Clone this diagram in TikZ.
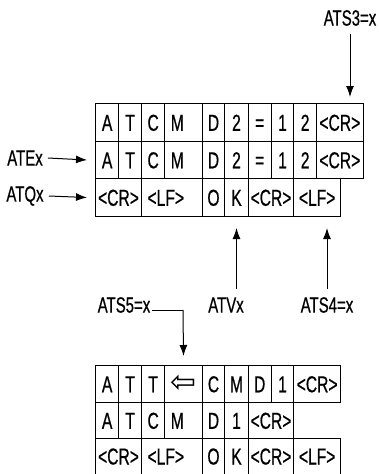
\documentclass[tikz,border=0pt]{standalone}
\usepackage{fontspec}
\setmainfont[FakeStretch=0.68,FakeBold=0.6]{Liberation Sans}
\newfontfamily\arrowfont{DejaVu Sans}
\usetikzlibrary{arrows.meta}

\tikzset{
  cell/.style={draw, line width=1pt, anchor=north west, inner ysep=0pt, inner xsep=2pt,
    text height=16.5pt, text depth=0pt, font={\fontsize{23}{23}\selectfont}},
  lbl/.style={inner sep=0pt, font={\fontsize{22}{22}\selectfont}},
  arr/.style={line width=1pt, -{Latex[length=11pt,width=8pt]}},
  wire/.style={line width=1pt},
}

\begin{document}
\begin{tikzpicture}[x=1pt,y=-1pt]
\useasboundingbox (0,0) rectangle (378,474);

% upper block: command, echo, response
\foreach \l/\r/\t/\a [count=\i] in {95/118.3/A/center, 118.3/141/T/center, 141/164.3/C/center,
  164.3/201.7/{\hspace*{4pt}M}/left, 201.7/224.3/D/center, 224.3/247.7/2/center, 247.7/270.7/=/center,
  270.7/293.3/1/center, 293.3/316/2/center, 316/362.7/<CR>/center}
{
  \pgfmathsetmacro\w{\r-\l}
  \pgfmathsetmacro\tw{\r-\l-4}
  \node [cell, minimum width=\w pt, minimum height=38pt, text width=\tw pt, align=\a] (cmd-\i) at (\l,103) {\t};
  \node [cell, minimum width=\w pt, minimum height=37pt, text width=\tw pt, align=\a] (echo-\i) at (\l,141) {\t};
}
\foreach \l/\r/\t/\a [count=\i] in {95/141/<CR>/center, 141/201.7/{\hspace*{4pt}<LF>}/left, 201.7/224.3/O/center,
  224.3/247.7/K/center, 247.7/293.3/<CR>/center, 293.3/340/<LF>/center}
{
  \pgfmathsetmacro\w{\r-\l}
  \pgfmathsetmacro\tw{\r-\l-4}
  \node [cell, minimum width=\w pt, minimum height=38pt, text width=\tw pt, align=\a] (resp-\i) at (\l,178) {\t};
}

% lower block
\foreach \l/\r/\t/\a [count=\i] in {95/118.3/A/center, 118.3/141/T/center, 141/164.3/T/center,
  164.3/201.7/{\arrowfont\fontsize{31}{31}\selectfont ⇦}/center, 201.7/224.3/C/center, 224.3/247.7/M/center,
  247.7/270.7/D/center, 270.7/293.3/1/center, 293.3/340/<CR>/center}
{
  \pgfmathsetmacro\w{\r-\l}
  \pgfmathsetmacro\tw{\r-\l-4}
  \node [cell, minimum width=\w pt, minimum height=37pt, text width=\tw pt, align=\a] (bcmd-\i) at (\l,365) {\t};
}
\foreach \l/\r/\t/\a [count=\i] in {95/118.3/A/center, 118.3/141/T/center, 141/164.3/C/center,
  164.3/201.7/{\hspace*{4pt}M}/left, 201.7/224.3/D/center, 224.3/247.7/1/center, 247.7/293.3/<CR>/center}
{
  \pgfmathsetmacro\w{\r-\l}
  \pgfmathsetmacro\tw{\r-\l-4}
  \node [cell, minimum width=\w pt, minimum height=36pt, text width=\tw pt, align=\a] (becho-\i) at (\l,402) {\t};
}
\foreach \l/\r/\t/\a [count=\i] in {95/141/<CR>/center, 141/201.7/{\hspace*{4pt}<LF>}/left, 201.7/224.3/O/center,
  224.3/247.7/K/center, 247.7/293.3/<CR>/center, 293.3/340/<LF>/center}
{
  \pgfmathsetmacro\w{\r-\l}
  \pgfmathsetmacro\tw{\r-\l-4}
  \node [cell, minimum width=\w pt, minimum height=35.5pt, text width=\tw pt, align=\a] (bresp-\i) at (\l,438) {\t};
}

% labels
\node [lbl] (ats3) at (350,18) {ATS3=x};
\node [lbl] (atex) at (25,158) {ATEx};
\node [lbl] (atqx) at (25,196) {ATQx};
\node [lbl] (atvx) at (226,305) {ATVx};
\node [lbl] (ats4) at (327,305) {ATS4=x};
\node [lbl] (ats5) at (124,305) {ATS5=x};
\coordinate (s5bend) at (183,310);
\path (resp-4.south |- atvx.north) ++(0,8pt) coordinate (vtail);

% arrows
\draw [arr] ([yshift=-8pt]ats3.south) -- ([yshift=6pt]ats3.south |- cmd-10.north);
\draw [arr] ([xshift=5pt]atex.east) -- ([xshift=-8pt]echo-1.west);
\draw [arr] ([xshift=5pt]atqx.east) -- ([xshift=-8pt]resp-1.west);
\draw [arr] (vtail) -- ([yshift=-11pt]resp-4.south);
\draw [arr] ([yshift=8pt]ats4.north) -- ([yshift=-11pt]ats4.north |- resp-6.south);
\draw [wire] ([xshift=2pt]ats5.east |- s5bend) -- (s5bend);
\draw [arr] (s5bend) -- ([yshift=9pt]bcmd-4.north);

\end{tikzpicture}
\end{document}
